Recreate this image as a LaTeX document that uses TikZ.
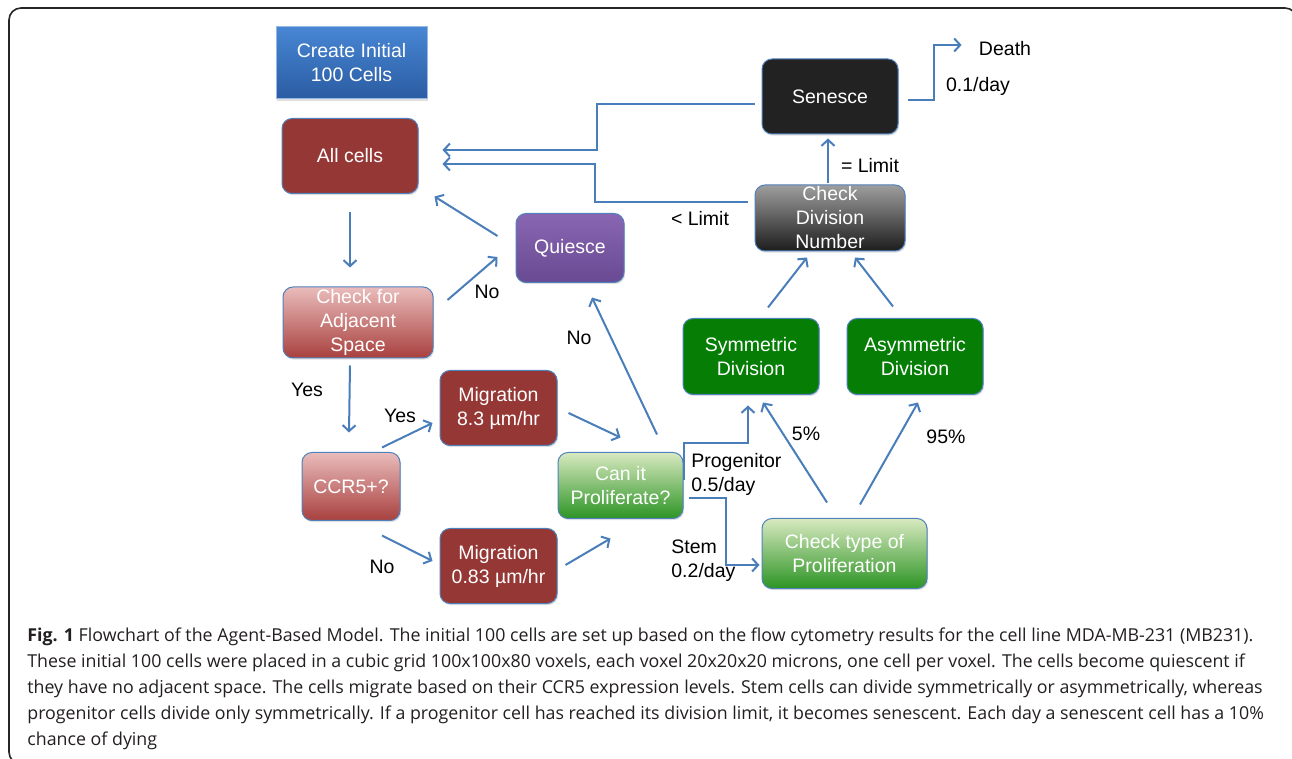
\documentclass[tikz,border=0pt]{standalone}
\usepackage{fontspec}
\setmainfont{Liberation Sans}
\newfontfamily\capfont{Open Sans}
\usetikzlibrary{arrows.meta,shadows,calc}
\definecolor{arrowblue}{RGB}{74,126,187}
\definecolor{bordercol}{RGB}{79,129,189}
\definecolor{darkred}{RGB}{149,55,53}
\definecolor{pinktop}{RGB}{233,188,187}
\definecolor{pinkbot}{RGB}{168,64,62}
\definecolor{lgtop}{RGB}{216,233,192}
\definecolor{lgbot}{RGB}{44,148,36}
\definecolor{dgreen}{RGB}{6,126,6}
\definecolor{graytop}{RGB}{158,158,158}
\definecolor{graybot}{RGB}{28,28,28}
\definecolor{blacknode}{RGB}{34,34,34}
\definecolor{bluetop}{RGB}{72,134,212}
\definecolor{bluebot}{RGB}{42,92,162}
\definecolor{lightblueborder}{RGB}{150,185,225}
\definecolor{purptop}{RGB}{138,102,178}
\definecolor{purpbot}{RGB}{104,74,146}
\definecolor{captext}{RGB}{35,31,32}
\newcommand{\nodefont}{\fontsize{9.75}{12}\selectfont}
\newcommand{\capsize}{\capfont\fontsize{8.9}{13.25}\selectfont}
\begin{document}
\begin{tikzpicture}[x=0.5pt,y=-0.5pt,
  box/.style={rectangle, rounded corners=5pt, draw=bordercol, line width=0.5pt,
    text=white, align=center, font=\nodefont, inner sep=0pt,
    drop shadow={shadow xshift=0.6pt, shadow yshift=-0.8pt, opacity=0.25}},
  lbl/.style={font=\nodefont, inner sep=0pt, align=left, text=black},
  capline/.style={font=\capsize, inner sep=0pt, text=captext, anchor=base west},
  arr/.style={draw=arrowblue, line width=1pt, -{Straight Barb[length=3pt,width=6.5pt]}},
]
\useasboundingbox (0,0) rectangle (1292,759);
\fill[white] (0,0) rectangle (1292,759);
\draw[line width=0.8pt, rounded corners=6pt, draw=black!85] (9,8) rectangle (1297,764);

% nodes
\node[box, sharp corners, top color=bluetop, bottom color=bluebot, draw=lightblueborder,
  minimum width=75.5pt, minimum height=36pt] (create) at (351.5,63) {Create Initial\\100 Cells};
\node[box, fill=darkred, minimum width=68pt, minimum height=37.5pt] (allcells) at (350,156) {All cells};
\node[box, top color=purptop, bottom color=purpbot, minimum width=54pt, minimum height=34.5pt] (quiesce) at (570,248) {Quiesce};
\node[box, top color=pinktop, bottom color=pinkbot, minimum width=75pt, minimum height=35.5pt] (adj) at (358,322.5) {Check for\\Adjacent\\Space};
\node[box, top color=pinktop, bottom color=pinkbot, minimum width=49pt, minimum height=34pt] (ccr5) at (351,486.5) {CCR5+?};
\node[box, fill=darkred, minimum width=58.5pt, minimum height=37.5pt] (mig1) at (498.5,408) {Migration\\8.3 µm/hr};
\node[box, fill=darkred, minimum width=58.5pt, minimum height=37.5pt] (mig2) at (498.5,566) {Migration\\0.83 µm/hr};
\node[box, top color=lgtop, bottom color=lgbot, minimum width=62.5pt, minimum height=33pt] (canit) at (620.5,485.5) {Can it\\Proliferate?};
\node[box, top color=lgtop, bottom color=lgbot, minimum width=82.5pt, minimum height=35pt] (checktype) at (844.5,553.5) {Check type of\\Proliferation};
\node[box, fill=dgreen, minimum width=68pt, minimum height=38pt] (sym) at (751,356.5) {Symmetric\\Division};
\node[box, fill=dgreen, minimum width=68pt, minimum height=38pt] (asym) at (915,356.5) {Asymmetric\\Division};
\node[box, top color=graytop, bottom color=graybot, minimum width=75pt, minimum height=33pt] (checkdiv) at (830,218) {Check\\Division\\Number};
\node[box, fill=blacknode, minimum width=68pt, minimum height=37.5pt] (senesce) at (830,96.5) {Senesce};

% labels
\node[lbl] (death) at (1005,49) {Death};
\node[lbl] (rate01) at (978,86) {0.1/day};
\node[lbl] (eqlimit) at (870,166) {= Limit};
\node[lbl] (ltlimit) at (700,219) {< Limit};
\node[lbl] (noq) at (487,292) {No};
\node[lbl] (yes1) at (307,390) {Yes};
\node[lbl] (yes2) at (400,416) {Yes};
\node[lbl] (nocan) at (579,338) {No};
\node[lbl] (nomig) at (382,567) {No};
\node[lbl, anchor=west] (prog) at (691,474) {Progenitor\\0.5/day};
\node[lbl, anchor=west] (stem) at (671,561) {Stem\\0.2/day};
\node[lbl] (p5) at (806,434) {5\%};
\node[lbl] (p95) at (946,437) {95\%};

% connectors
\draw[arr] ([shift={(0,18.5)}]allcells.south) -- ([shift={(-8,-19)}]adj.north);
\draw[arr] ([shift={(14,-22.5)}]adj.east) -- ([shift={(-18,9)}]quiesce.west);
\draw[arr] ([shift={(-18,-12)}]quiesce.west) -- ([shift={(16,2.5)}]allcells.south east);
\draw[arr] ([shift={(-8,7)}]adj.south) -- ([shift={(-2,-19.5)}]ccr5.north);
\draw[arr] ([shift={(31,-4.5)}]ccr5.north) -- ([shift={(-7,15)}]mig1.west);
\draw[arr] ([shift={(31,14.5)}]ccr5.south) -- ([shift={(-7,-5)}]mig2.west);
\draw[arr] ([shift={(11,5)}]mig1.east) -- ([shift={(0,-14.5)}]canit.north);
\draw[arr] ([shift={(8,-1)}]mig2.east) -- ([shift={(-10,19.5)}]canit.south);
\draw[arr] ([shift={(36.5,-17.5)}]canit.north) -- ([shift={(22,14.5)}]quiesce.south);
\draw[arr] ([shift={(0,-5.5)}]canit.east) -- ++(0,-37) -| ([shift={(-3,10.5)}]sym.south);
\draw[arr] ([shift={(5,12.5)}]canit.east) -- ++(37,0) |- ([shift={(-2,11.5)}]checktype.west);
\draw[arr] ([shift={(-17.5,-15.5)}]checktype.north) -- ([shift={(12,7.5)}]sym.south);
\draw[arr] ([shift={(15.5,-13.5)}]checktype.north) -- ([shift={(3,7.5)}]asym.south);
\draw[arr] ([shift={(17,-10.5)}]sym.north) -- ([shift={(-23,6)}]checkdiv.south);
\draw[arr] ([shift={(-22,-11.5)}]asym.north) -- ([shift={(25,6)}]checkdiv.south);
\draw[arr] ([shift={(-2,-1)}]checkdiv.north) -- ([shift={(-2,4)}]senesce.south);
\draw[arr] ([shift={(-7,-16)}]checkdiv.west) -- ++(-153,0) |- ([shift={(24,8)}]allcells.east);
\draw[arr] ([shift={(-7,7.5)}]senesce.west) -- ++(-158,0) |- ([shift={(24,-6)}]allcells.east);
\draw[arr] ([shift={(9,3.5)}]senesce.east) -- ++(26,0) |- ([shift={(-17,-4)}]death.west);

% caption
\node[capline] (cap1) at (27,641) {\textbf{Fig. 1} Flowchart of the Agent-Based Model. The initial 100 cells are set up based on the flow cytometry results for the cell line MDA-MB-231 (MB231).};
\node[capline] (cap2) at (27,667) {These initial 100 cells were placed in a cubic grid 100x100x80 voxels, each voxel 20x20x20 microns, one cell per voxel. The cells become quiescent if};
\node[capline] (cap3) at (27,693) {they have no adjacent space. The cells migrate based on their CCR5 expression levels. Stem cells can divide symmetrically or asymmetrically, whereas};
\node[capline] (cap4) at (27,719) {progenitor cells divide only symmetrically. If a progenitor cell has reached its division limit, it becomes senescent. Each day a senescent cell has a 10\%};
\node[capline] (cap5) at (27,745) {chance of dying};
\end{tikzpicture}
\end{document}
